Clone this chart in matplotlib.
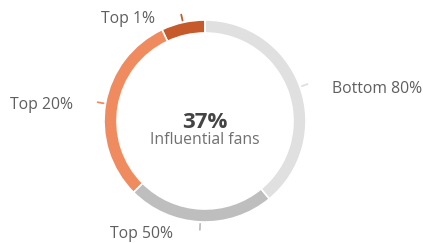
import numpy as np
import matplotlib
matplotlib.use("Agg")
import matplotlib.pyplot as plt

plt.rcParams['font.family'] = ['Open Sans', 'DejaVu Sans']

# segments, counter-clockwise from 12 o'clock
labels = ["Top 1%", "Top 20%", "Top 50%", "Bottom 80%"]
shares = [7, 30.5, 23.5, 39]
colors = ["#c65a2b", "#f08b60", "#bebebe", "#e0e0e0"]
center_value = "37%"
center_text = "Influential fans"

W, H = 423, 243
fig = plt.figure(figsize=(W / 100, H / 100), dpi=100)
ax = fig.add_axes([0, 0, 1, 1])

cx, cy, r = 205, H - 121, 101
ax.pie(shares, colors=colors, startangle=90, counterclock=True,
       center=(cx, cy), radius=r,
       wedgeprops=dict(width=13, edgecolor="white", linewidth=1.2))

# small ticks at the middle of each segment + labels
label_pos = [(155, H - 19, "right"), (73, H - 105, "right"),
             (110, H - 234, "left"), (332, H - 89, "left")]
start = 90.0
total = sum(shares)
for lab, val, col, (tx, ty, ha) in zip(labels, shares, colors, label_pos):
    span = 360.0 * val / total
    mid = np.deg2rad(start + span / 2)
    start += span
    x0, y0 = cx + (r + 2) * np.cos(mid), cy + (r + 2) * np.sin(mid)
    x1, y1 = cx + (r + 8) * np.cos(mid), cy + (r + 8) * np.sin(mid)
    ax.plot([x0, x1], [y0, y1], color=col, lw=1.3, solid_capstyle="round")
    ax.text(tx, ty, lab, ha=ha, va="center", fontsize=11.3, color="#5f5f5f")

ax.text(cx, H - 128, center_value, ha="center", va="baseline", fontsize=16,
        fontweight="bold", color="#444444")
ax.text(cx, H - 144, center_text, ha="center", va="baseline", fontsize=11.3,
        color="#707070")

ax.set_xlim(0, W)
ax.set_ylim(0, H)
ax.set_aspect("equal")
ax.axis("off")

fig.savefig("out.png", dpi=100, facecolor="white")
